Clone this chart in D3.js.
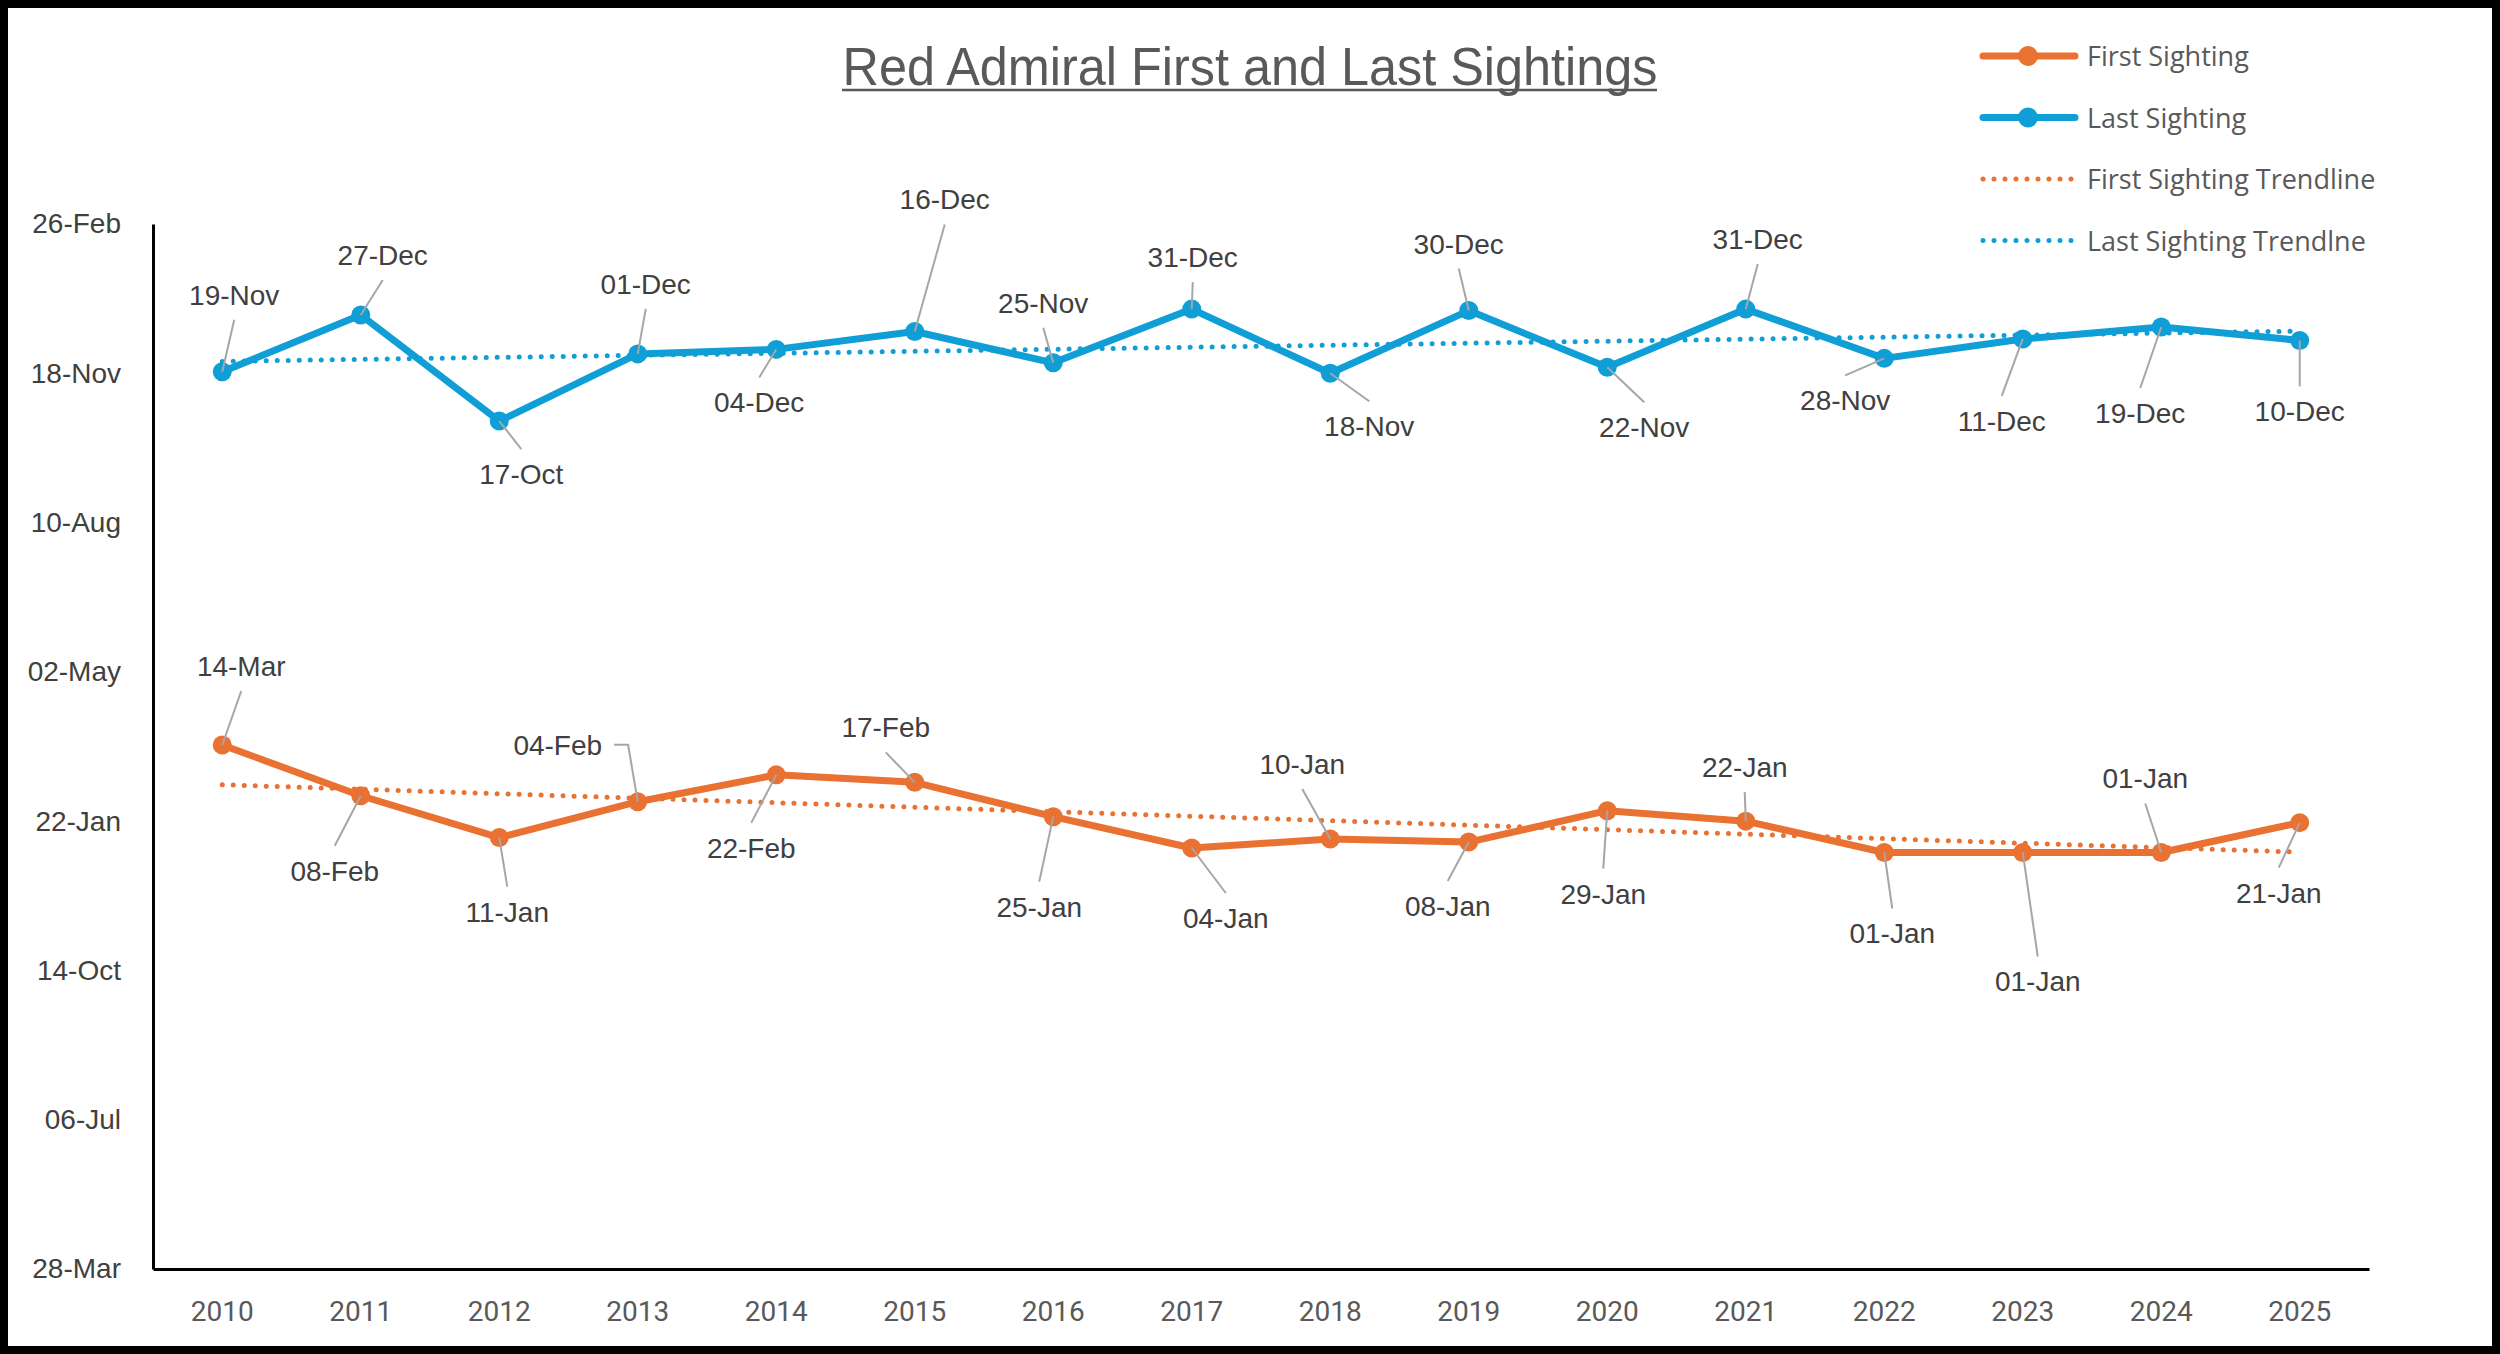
<!DOCTYPE html>
<html>
<head>
<meta charset="utf-8">
<script src="https://cdn.jsdelivr.net/npm/d3@7"></script>
<style>
  body { margin: 0; background: #fff; }
  svg { display: block; }
</style>
</head>
<body>
<svg width="2500" height="1354"></svg>
<script>
const years = ["2010", "2011", "2012", "2013", "2014", "2015", "2016", "2017",
    "2018", "2019", "2020", "2021", "2022", "2023", "2024", "2025"];

const firstSighting = ["14-Mar", "08-Feb", "11-Jan", "04-Feb", "22-Feb", "17-Feb", "25-Jan", "04-Jan",
    "10-Jan", "08-Jan", "29-Jan", "22-Jan", "01-Jan", "01-Jan", "01-Jan", "21-Jan"];

const lastSighting = ["19-Nov", "27-Dec", "17-Oct", "01-Dec", "04-Dec", "16-Dec", "25-Nov", "31-Dec",
    "18-Nov", "30-Dec", "22-Nov", "31-Dec", "28-Nov", "11-Dec", "19-Dec", "10-Dec"];

const yTickLabels = ["28-Mar", "06-Jul", "14-Oct", "22-Jan", "02-May", "10-Aug", "18-Nov", "26-Feb"];

// label placement (offset of label centre from its point), as hand-placed in the original
const firstLabelOffsets = [[19, -79], [-26, 75], [8, 74], [-80, -57], [-25, 73], [-29, -55], [-14, 90], [34, 70],
    [-28, -75], [-21, 64], [-4, 83], [-1, -54], [8, 81], [15, 129], [-16, -74], [-21, 70]];
const lastLabelOffsets = [[12, -77], [22, -60], [22, 53], [8, -70], [-17, 53], [30, -132], [-10, -60], [1, -52],
    [39, 53], [-10, -67], [37, 60], [12, -70], [-39, 42], [-21, 82], [-21, 86], [0, 71]];

const svg = d3.select("svg"),
    width = +svg.attr("width"),
    height = +svg.attr("height");

const orange = "#E97132",
    blue = "#0F9ED5";

const plotLeft = 153, plotRight = 2369, plotTop = 224, plotBottom = 1269;

// days counted from the bottom of the axis (28-Mar)
const parseDay = d3.utcParse("%d-%b-%Y");
const base = parseDay("28-Mar-2000");
const toDay = s => d3.utcDay.count(base, parseDay(s + "-2001"));

svg.append("rect")
    .attr("x", 4).attr("y", 4)
    .attr("width", width - 8).attr("height", height - 8)
    .attr("fill", "#fff")
    .attr("stroke", "#000")
    .attr("stroke-width", 8);

const x = d3.scaleBand().domain(years).range([plotLeft, plotRight]).padding(0);
const y = d3.scaleLinear().domain([0, 700]).range([plotBottom, plotTop]);
const cx = d => x(d) + x.bandwidth() / 2;

// axes
const axisY = svg.append("g")
    .attr("transform", `translate(${plotLeft},0)`)
    .call(d3.axisLeft(y)
        .tickValues(d3.range(0, 701, 100))
        .tickFormat((d, i) => yTickLabels[i])
        .tickSize(0).tickPadding(32));

const axisX = svg.append("g")
    .attr("transform", `translate(0,${plotBottom})`)
    .call(d3.axisBottom(x).tickSize(0).tickPadding(32));

[axisY, axisX].forEach(g => {
    g.select(".domain").attr("stroke", "#000").attr("stroke-width", 3);
});
axisY.selectAll("text")
    .style("font-family", "'Liberation Sans', Arial, sans-serif")
    .style("font-size", "28px")
    .attr("fill", "#404040");
axisX.selectAll("text")
    .style("font-family", "Roboto, sans-serif")
    .style("font-size", "28px")
    .attr("fill", "#595959");

// title
svg.append("text")
    .attr("x", 1250).attr("y", 85)
    .attr("text-anchor", "middle")
    .attr("textLength", 815)
    .attr("lengthAdjust", "spacingAndGlyphs")
    .style("font-family", "'Liberation Sans', Arial, sans-serif")
    .style("font-size", "54px")
    .attr("fill", "#595959")
    .text("Red Admiral First and Last Sightings");
svg.append("line")
    .attr("x1", 842).attr("x2", 1657)
    .attr("y1", 90).attr("y2", 90)
    .attr("stroke", "#595959").attr("stroke-width", 2.5);

function trend(values) {
    const n = values.length;
    const mx = d3.mean(values, (v, i) => i), my = d3.mean(values);
    const sxy = d3.sum(values, (v, i) => (i - mx) * (v - my));
    const sxx = d3.sum(values, (v, i) => (i - mx) * (i - mx));
    const b = sxy / sxx, a = my - b * mx;
    return [[0, a], [n - 1, a + b * (n - 1)]];
}

function drawSeries(labels, color) {
    const vals = labels.map(toDay);
    const pts = vals.map((v, i) => [cx(years[i]), y(v)]);

    svg.append("path")
        .attr("d", d3.line()(pts))
        .attr("fill", "none")
        .attr("stroke", color)
        .attr("stroke-width", 7)
        .attr("stroke-linejoin", "round")
        .attr("stroke-linecap", "round");

    svg.selectAll(null)
        .data(pts)
        .enter()
        .append("circle")
        .attr("cx", d => d[0])
        .attr("cy", d => d[1])
        .attr("r", 9.5)
        .attr("fill", color);

    return {vals, pts};
}

function drawTrend(vals, color) {
    const t = trend(vals);
    svg.append("path")
        .attr("d", d3.line()(t.map(d => [cx(years[d[0]]), y(d[1])])))
        .attr("fill", "none")
        .attr("stroke", color)
        .attr("stroke-width", 5)
        .attr("stroke-linecap", "round")
        .attr("stroke-dasharray", "0 11");
}

function drawLabels(labels, pts, offsets) {
    const g = svg.append("g");
    labels.forEach((lab, i) => {
        const [px, py] = pts[i];
        const lx = px + offsets[i][0], ly = py + offsets[i][1];
        const txt = g.append("text")
            .attr("x", lx).attr("y", ly + 10)
            .attr("text-anchor", "middle")
            .style("font-family", "'Liberation Sans', Arial, sans-serif")
            .style("font-size", "28px")
            .attr("fill", "#404040")
            .text(lab);
        const w = txt.node().getComputedTextLength();
        let path;
        if (Math.abs(offsets[i][0]) > 60) {
            const s = Math.sign(-offsets[i][0]);
            const sx = lx + s * (w / 2 + 12);
            path = [[sx, ly], [sx + s * 14, ly], [px, py]];
        } else {
            const sy = ly + Math.sign(py - ly) * 25;
            path = [[lx, sy], [px, py]];
        }
        const len = Math.hypot(path[0][0] - px, path[0][1] - py);
        if (len > 4) {
            g.insert("path", "text")
                .attr("d", d3.line()(path))
                .attr("fill", "none")
                .attr("stroke", "#A6A6A6")
                .attr("stroke-width", 2);
        }
    });
}

const first = drawSeries(firstSighting, orange);
const last = drawSeries(lastSighting, blue);
drawTrend(first.vals, orange);
drawTrend(last.vals, blue);
drawLabels(firstSighting, first.pts, firstLabelOffsets);
drawLabels(lastSighting, last.pts, lastLabelOffsets);

// legend
const legendItems = [
    {name: "First Sighting", color: orange, type: "line"},
    {name: "Last Sighting", color: blue, type: "line"},
    {name: "First Sighting Trendline", color: orange, type: "dot"},
    {name: "Last Sighting Trendlne", color: blue, type: "dot"}
];
const legend = svg.append("g").attr("transform", "translate(1980,56)");
legendItems.forEach((d, i) => {
    const row = legend.append("g").attr("transform", `translate(0,${i * 61.5})`);
    if (d.type === "line") {
        row.append("line")
            .attr("x1", 3).attr("x2", 95)
            .attr("stroke", d.color).attr("stroke-width", 7)
            .attr("stroke-linecap", "round");
        row.append("circle").attr("cx", 48).attr("r", 10).attr("fill", d.color);
    } else {
        row.append("line")
            .attr("x1", 3).attr("x2", 95)
            .attr("stroke", d.color).attr("stroke-width", 5)
            .attr("stroke-linecap", "round")
            .attr("stroke-dasharray", "0 11");
    }
    row.append("text")
        .attr("x", 107).attr("y", 10)
        .style("font-family", "'Open Sans', sans-serif")
        .style("font-size", "27px")
        .attr("fill", "#595959")
        .text(d.name);
});
</script>
</body>
</html>
